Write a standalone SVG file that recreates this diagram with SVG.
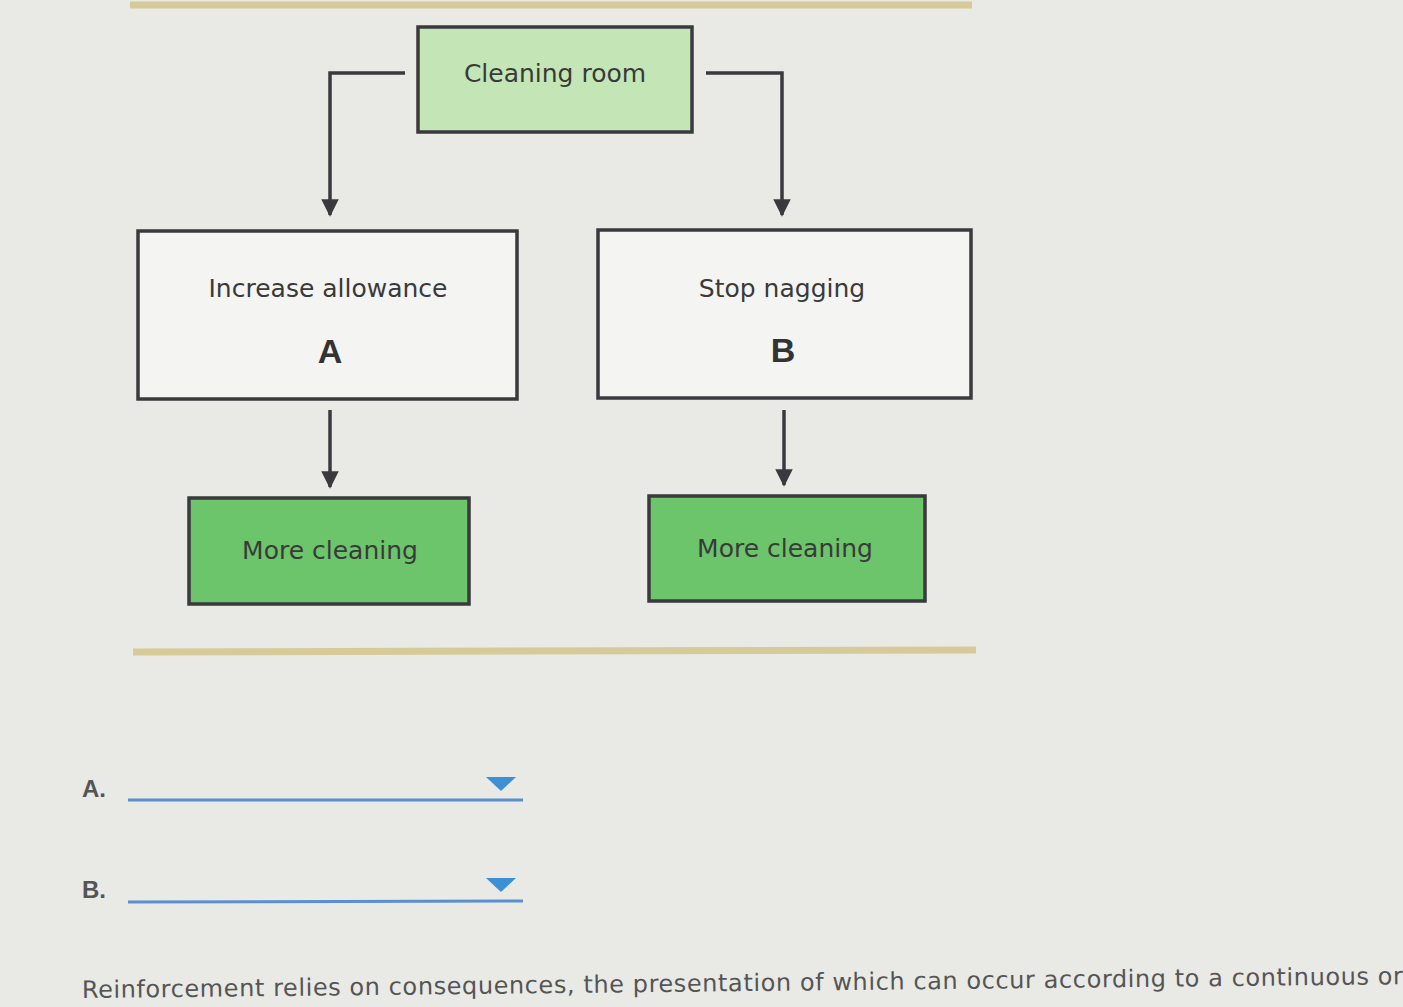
<svg xmlns="http://www.w3.org/2000/svg" width="1403" height="1007" viewBox="0 0 1403 1007">
<defs>
<style>
.box{stroke:#3a3a3e;stroke-width:3.5}
.t{font-family:"DejaVu Sans",sans-serif;font-size:25px;fill:#3a3a3a;text-anchor:middle}
.b{font-family:"Liberation Sans",Arial,sans-serif;font-weight:bold;font-size:34px;fill:#333;text-anchor:middle}
.c{fill:none;stroke:#3a3a3e;stroke-width:3.5}
.sep{stroke:#d6ca98;stroke-width:7}
.ul{stroke:#5b8fd0;stroke-width:3}
.lbl{font-family:"Liberation Sans",Arial,sans-serif;font-weight:bold;font-size:24px;fill:#555}
</style>
<marker id="ah" viewBox="0 0 10 10" refX="9" refY="5" markerWidth="6" markerHeight="5" orient="auto" markerUnits="strokeWidth"><path d="M0,0 L10,5 L0,10 z" fill="#3a3a3e"/></marker>
</defs>
<rect width="1403" height="1007" fill="#e9e9e5"/>
<line class="sep" x1="130" y1="5" x2="972" y2="5"/>
<line class="sep" x1="133" y1="652" x2="976" y2="650"/>
<g id="connectors">
<polyline class="c" points="405,73 330,73 330,215" marker-end="url(#ah)"/>
<polyline class="c" points="706,73 782,73 782,215" marker-end="url(#ah)"/>
<line class="c" x1="330" y1="410" x2="330" y2="487" marker-end="url(#ah)"/>
<line class="c" x1="784" y1="410" x2="784" y2="485" marker-end="url(#ah)"/>
</g>
<g id="cleaning"><rect class="box" x="418" y="27" width="274" height="105" fill="#c4e6b6"/><text class="t" x="555" y="82">Cleaning room</text></g>
<g id="increase"><rect class="box" x="138" y="231" width="379" height="168" fill="#f4f4f2"/><text class="t" x="328" y="297">Increase allowance</text><text class="b" x="330" y="363">A</text></g>
<g id="stop"><rect class="box" x="598" y="230" width="373" height="168" fill="#f4f4f2"/><text class="t" x="782" y="297">Stop nagging</text><text class="b" x="783" y="362">B</text></g>
<g id="moreA"><rect class="box" x="189" y="498" width="280" height="106" fill="#6cc46b"/><text class="t" x="330" y="559">More cleaning</text></g>
<g id="moreB"><rect class="box" x="649" y="496" width="276" height="105" fill="#6cc46b"/><text class="t" x="785" y="557">More cleaning</text></g>
<g id="answers">
<text class="lbl" x="82" y="797">A.</text>
<line class="ul" x1="128" y1="800" x2="523" y2="800"/>
<path d="M486,777 L516,777 L501,791 z" fill="#3d8fd6"/>
<text class="lbl" x="82" y="898">B.</text>
<line class="ul" x1="128" y1="902" x2="523" y2="901"/>
<path d="M486,878 L516,878 L501,892 z" fill="#3d8fd6"/>
</g>
<text x="82" y="998" font-family="DejaVu Sans,sans-serif" font-size="24" textLength="1321" fill="#555" transform="rotate(-0.6 82 998)">Reinforcement relies on consequences, the presentation of which can occur according to a continuous or</text>
</svg>
